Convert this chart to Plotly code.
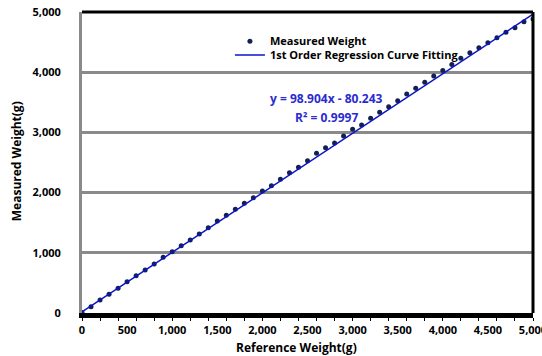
import plotly.graph_objects as go

# Data
reference_weight = [i * 100 for i in range(51)]
measured_weight = [10, 105, 215, 311, 410, 520, 620, 714, 814, 925,
                   1018, 1118, 1213, 1312, 1415, 1528, 1623, 1722, 1822, 1915,
                   2027, 2114, 2221, 2331, 2420, 2531, 2653, 2746, 2825, 2942,
                   3051, 3123, 3234, 3334, 3427, 3527, 3638, 3732, 3832, 3935,
                   4030, 4128, 4231, 4324, 4407, 4490, 4573, 4663, 4740, 4840,
                   4884]
fit_slope = 98.904
fit_intercept = -80.243
x_ticks = [0, 500, 1000, 1500, 2000, 2500, 3000, 3500, 4000, 4500, 5000]
y_ticks = [0, 1000, 2000, 3000, 4000, 5000]

# fit uses category index (1..N) as x
fit_y = [fit_slope * (i + 1) + fit_intercept for i in range(len(reference_weight))]

FONT = "Open Sans"
fig = go.Figure()
fig.add_trace(go.Scatter(
    x=reference_weight, y=measured_weight, mode="markers",
    name="<b>Measured Weight</b>", legend="legend",
    marker=dict(size=5, color="#14214f"),
))
fig.add_trace(go.Scatter(
    x=reference_weight, y=fit_y, mode="lines",
    name="<b>1st Order Regression Curve Fitting</b>", legend="legend2",
    line=dict(color="#0a14c8", width=1.5),
))

leg_common = dict(xanchor="left", yanchor="middle", bgcolor="rgba(0,0,0,0)",
                  font=dict(size=11, family=FONT), itemwidth=30)

fig.update_layout(
    width=542, height=356,
    margin=dict(l=82, r=9, t=12, b=43, autoexpand=False),
    paper_bgcolor="white", plot_bgcolor="white",
    font=dict(family=FONT, size=11, color="black"),
    showlegend=True,
    legend=dict(x=0.328, y=0.903, **leg_common),
    legend2=dict(x=0.328, y=0.857, **leg_common),
    xaxis=dict(
        range=[0, 5000.001], tickvals=x_ticks,
        ticktext=[f"<b>{v:,}</b>" for v in x_ticks],
        showgrid=False, zeroline=False, automargin=False,
        showline=True, linecolor="black", linewidth=5,
        ticks="", ticklabeloverflow="allow", ticklabelstandoff=3,
        minor=dict(ticks="outside", dtick=200, ticklen=3, tickcolor="black", tickwidth=1),
        tickfont=dict(size=11),
    ),
    yaxis=dict(
        range=[0, 5000.001], tickvals=y_ticks,
        ticktext=[f"<b>{v:,}</b>" for v in y_ticks],
        showgrid=True, gridcolor="#8a8a8a", gridwidth=3, zeroline=False, automargin=False,
        showline=True, linecolor="#8a8a8a", linewidth=3,
        ticks="", ticklabelstandoff=16, ticklabeloverflow="allow",
        tickfont=dict(size=11),
    ),
)

# plot frame: black top and right borders
fig.add_shape(type="line", xref="paper", yref="paper", x0=0, x1=1, y0=1, y1=1,
              line=dict(color="black", width=3))
fig.add_shape(type="line", xref="paper", yref="paper", x0=1, x1=1, y0=0, y1=1,
              line=dict(color="black", width=3))

# axis titles
fig.add_annotation(xref="paper", yref="paper", x=0.476, y=-0.113, yanchor="middle",
                   showarrow=False, text="<b>Reference Weight(g)</b>", font=dict(size=12))
fig.add_annotation(xref="paper", yref="paper", x=-0.145, y=0.503, xanchor="center",
                   showarrow=False, textangle=-90, text="<b>Measured Weight(g)</b>",
                   font=dict(size=12))

fig.add_annotation(xref="paper", yref="paper", x=0.543, y=0.747, showarrow=False,
                   text="<b>y = 98.904x - 80.243</b>", font=dict(color="#2b2bd0", size=12))
fig.add_annotation(xref="paper", yref="paper", x=0.543, y=0.685, showarrow=False,
                   text="<b>R² = 0.9997</b>", font=dict(color="#2b2bd0", size=12))

fig.write_html("out.html", post_script="document.body.style.margin='0';",
               config={"displayModeBar": False})
